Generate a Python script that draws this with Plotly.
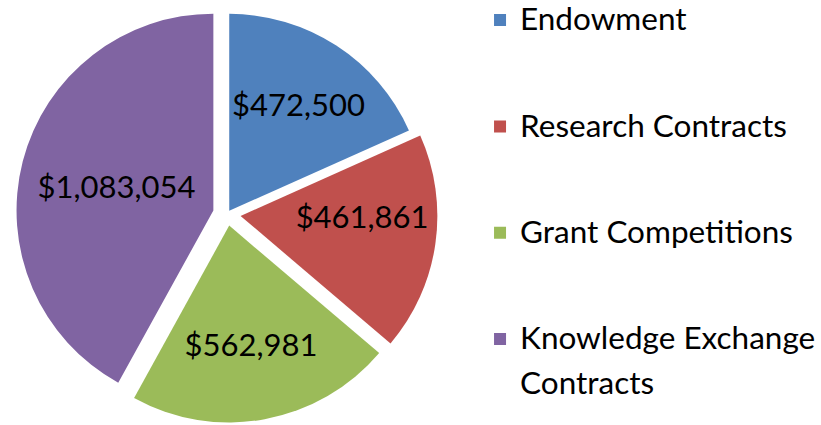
import plotly.graph_objects as go

categories = ["Endowment", "Research Contracts", "Grant Competitions", "Knowledge Exchange<br>Contracts"]
values = [472500, 461861, 562981, 1083054]
colors = ["#4F81BD", "#C0504D", "#9BBB59", "#8064A2"]
pulls = [0.02, 0.069, 0.06, 0.072]

FONT = "Lato"
LEG_SIZE = 31.5


def legend_label(cat):
    lines = cat.split("<br>")
    styled = [f"<span style='font-size:{LEG_SIZE}px'>{lines[0]}</span>"]
    for ln in lines[1:]:
        styled.append(f"<span style='font-size:{LEG_SIZE}px;baseline-shift:-10px'>{ln}</span>")
    if len(lines) == 1:
        styled += ["\u00a0", "\u00a0"]
    return "<br>".join(styled)


fig = go.Figure(
    go.Pie(
        labels=[legend_label(c) for c in categories],
        values=values,
        sort=False,
        direction="clockwise",
        rotation=0,
        pull=pulls,
        marker=dict(colors=colors, line=dict(width=0)),
        texttemplate="$%{value:,.0f}",
        textposition="inside",
        insidetextorientation="horizontal",
        textfont=dict(family=FONT, size=31, color="black"),
        domain=dict(x=[0.018, 0.5352], y=[0, 1]),
        hoverinfo="skip",
    )
)

fig.update_layout(
    width=821,
    height=425,
    margin=dict(l=0, r=0, t=3, b=0, autoexpand=False),
    paper_bgcolor="white",
    plot_bgcolor="white",
    font=dict(family=FONT, color="black"),
    showlegend=True,
    legend=dict(
        x=0.5847,
        xanchor="left",
        y=1.0158,
        yanchor="top",
        valign="top",
        maxheight=600,
        font=dict(family=FONT, size=26.5, color="black"),
        bgcolor="rgba(0,0,0,0)",
        borderwidth=0,
        traceorder="normal",
    ),
)

fig.write_html(
    "out.html",
    config={"displayModeBar": False},
    post_script="document.body.style.margin='0';",
)
